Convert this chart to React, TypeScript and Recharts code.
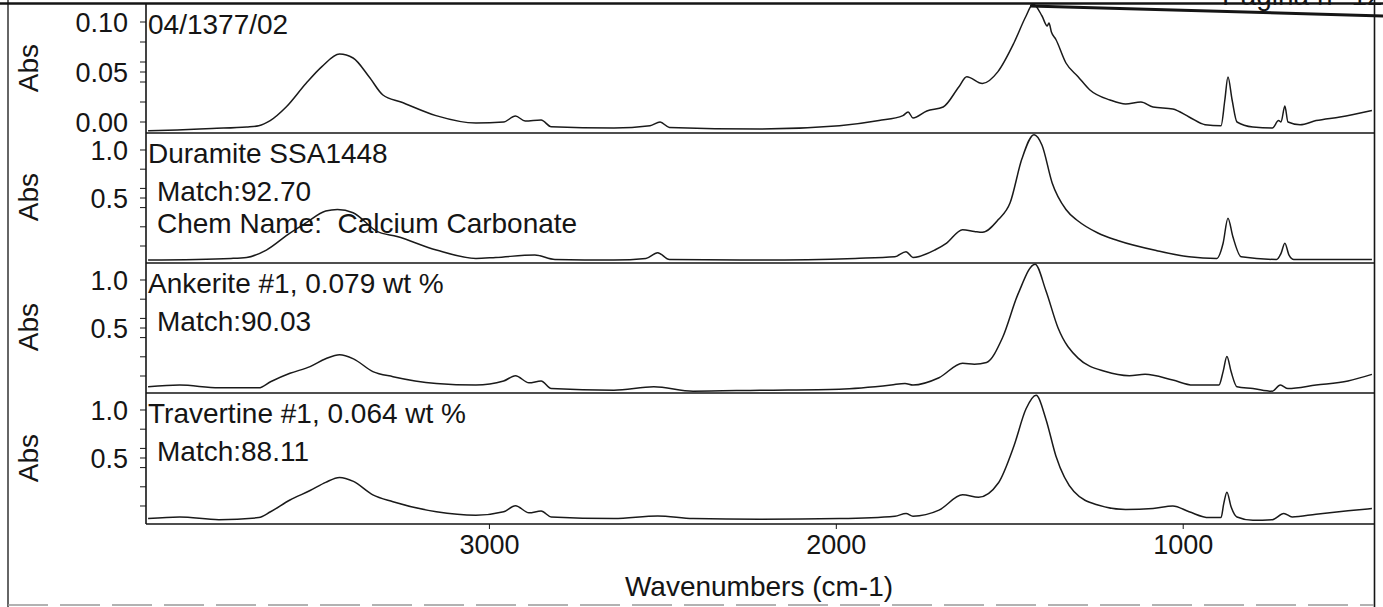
import { LineChart, Line, XAxis, YAxis } from "recharts";

// IR stack plot: unknown sample + three library matches
// pairs are [wavenumber cm-1, absorbance]

const sample0413: [number, number][] = [
  [3984, -0.0088], [3900, -0.008], [3800, -0.0065], [3700, -0.005], [3665, -0.0037],
  [3632, 0.0014], [3586, 0.015], [3529, 0.0385], [3483, 0.0554], [3432, 0.068],
  [3393, 0.064], [3347, 0.0453], [3307, 0.027], [3255, 0.02], [3154, 0.0064],
  [3039, -0.001], [2959, 0.0], [2925, 0.006], [2897, 0.001], [2851, 0.002],
  [2822, -0.0047], [2641, -0.006], [2537, -0.0037], [2508, 0.0], [2481, -0.0054],
  [2220, -0.007], [1991, -0.0037], [1877, 0.0014], [1808, 0.0064], [1793, 0.01],
  [1779, 0.004], [1739, 0.011], [1692, 0.015], [1647, 0.035], [1624, 0.0453],
  [1579, 0.0385], [1534, 0.0504], [1488, 0.079], [1453, 0.106], [1433, 0.118],
  [1407, 0.106], [1392, 0.096], [1387, 0.099], [1380, 0.09], [1367, 0.0825],
  [1338, 0.059], [1303, 0.0453], [1269, 0.032], [1211, 0.022], [1166, 0.018],
  [1122, 0.02], [1087, 0.015], [1030, 0.013], [983, 0.005], [937, -0.0027],
  [891, -0.0037], [880, 0.022], [871, 0.045], [859, 0.022], [845, 0.0],
  [799, -0.005], [743, -0.006], [725, 0.0014], [718, 0.0], [707, 0.016],
  [698, 0.0], [663, -0.0027], [617, 0.0014], [548, 0.005], [456, 0.0115],
];

const duramite: [number, number][] = [
  [3984, -0.146], [3745, -0.129], [3700, -0.119], [3643, -0.042], [3575, 0.135],
  [3529, 0.24], [3472, 0.364], [3438, 0.38], [3393, 0.346], [3324, 0.152],
  [3266, 0.099], [3153, -0.042], [3039, -0.129], [2982, -0.119], [2869, -0.094],
  [2811, -0.14], [2641, -0.146], [2549, -0.129], [2515, -0.07], [2481, -0.14],
  [2220, -0.146], [1946, -0.129], [1831, -0.1125], [1799, -0.059], [1779, -0.119],
  [1716, -0.042], [1682, 0.031], [1636, 0.17], [1602, 0.152], [1579, 0.142],
  [1533, 0.275], [1499, 0.45], [1465, 0.908], [1430, 1.16], [1407, 1.05],
  [1378, 0.66], [1338, 0.38], [1303, 0.26], [1246, 0.135], [1189, 0.057],
  [1076, -0.049], [983, -0.1125], [903, -0.129], [885, 0.029], [871, 0.29],
  [857, 0.099], [833, -0.1125], [731, -0.14], [718, -0.077], [707, 0.029],
  [695, -0.094], [681, -0.14], [456, -0.14],
];

const ankerite: [number, number][] = [
  [3984, -0.1125], [3893, -0.094], [3780, -0.123], [3665, -0.123], [3631, -0.06],
  [3575, 0.028], [3517, 0.098], [3472, 0.179], [3432, 0.222], [3392, 0.179],
  [3336, 0.046], [3278, -0.007], [3153, -0.077], [3039, -0.094], [2959, -0.052],
  [2925, 0.003], [2886, -0.071], [2851, -0.052], [2822, -0.13], [2641, -0.148],
  [2526, -0.1125], [2413, -0.158], [2220, -0.148], [1991, -0.1375], [1842, -0.094],
  [1802, -0.077], [1779, -0.094], [1704, -0.018], [1636, 0.133], [1602, 0.123],
  [1567, 0.141], [1521, 0.398], [1476, 0.855], [1427, 1.165], [1396, 0.891],
  [1361, 0.503], [1303, 0.186], [1224, 0.046], [1155, 0.003], [1110, 0.017],
  [1030, -0.042], [972, -0.094], [897, -0.094], [885, 0.046], [874, 0.204],
  [862, 0.046], [845, -0.1125], [799, -0.13], [743, -0.158], [720, -0.094],
  [698, -0.13], [617, -0.094], [525, -0.052], [456, 0.017],
];

const travertine: [number, number][] = [
  [3984, -0.131], [3893, -0.114], [3780, -0.142], [3665, -0.121], [3631, -0.06],
  [3575, 0.0625], [3517, 0.161], [3472, 0.246], [3432, 0.298], [3392, 0.256],
  [3336, 0.116], [3278, 0.045], [3153, -0.06], [3039, -0.096], [2959, -0.06],
  [2925, 0.003], [2886, -0.071], [2851, -0.053], [2822, -0.114], [2641, -0.131],
  [2515, -0.103], [2413, -0.131], [2220, -0.139], [1991, -0.131], [1831, -0.106],
  [1799, -0.078], [1779, -0.106], [1704, -0.043], [1636, 0.116], [1590, 0.091],
  [1533, 0.239], [1488, 0.625], [1453, 1.0125], [1424, 1.153], [1396, 0.907],
  [1367, 0.521], [1315, 0.15], [1246, 0.01], [1166, -0.036], [1087, -0.026],
  [1030, 0.0], [983, -0.06], [926, -0.121], [891, -0.121], [883, 0.027],
  [874, 0.144], [862, -0.008], [845, -0.114], [799, -0.149], [743, -0.142],
  [710, -0.078], [686, -0.114], [617, -0.085], [525, -0.05], [456, -0.026],
];

const smallTicks = [0.1, 0.08, 0.06, 0.05, 0.04, 0.02, 0];
const smallLabels = [0.1, 0.05, 0];
const bigTicks = [1.0, 0.8, 0.6, 0.5, 0.4, 0.2, 0];
const bigLabels = [1.0, 0.5];
const wnTicks = [3000, 2000, 1000];

const notes0413 = ["04/1377/02"];
const notesDuramite = ["Duramite SSA1448", "Match:92.70", "Chem Name:  Calcium Carbonate"];
const notesAnkerite = ["Ankerite #1, 0.079 wt %", "Match:90.03"];
const notesTravertine = ["Travertine #1, 0.064 wt %", "Match:88.11"];

const FONT = '"Liberation Sans", Arial, Helvetica, sans-serif';
const INK = "#151515";

const panels = [
  { data: sample0413, top: 4, plotH: 129, domain: [-0.011, 0.118], ticks: smallTicks, labels: smallLabels, digits: 2, notes: notes0413, noteY: [34] },
  { data: duramite, top: 133, plotH: 130, domain: [-0.177, 1.177], ticks: bigTicks, labels: bigLabels, digits: 1, notes: notesDuramite, noteY: [163, 201, 233] },
  { data: ankerite, top: 263, plotH: 130, domain: [-0.177, 1.177], ticks: bigTicks, labels: bigLabels, digits: 1, notes: notesAnkerite, noteY: [293, 331] },
  { data: travertine, top: 393, plotH: 131, domain: [-0.1875, 1.177], ticks: bigTicks, labels: bigLabels, digits: 1, notes: notesTravertine, noteY: [423, 461] },
];

function Panel({ p, last }: { p: (typeof panels)[number]; last: boolean }) {
  const rows = p.data.map(([wn, a]) => ({ wn, a }));
  // the x axis strip below the upper panels stays empty; it only gives the
  // bottom tick label room so it is not clipped
  const xh = last ? 42 : 12;
  return (
    <div style={{ position: "absolute", left: 0, top: p.top }}>
      <LineChart
        width={1383}
        height={p.plotH + xh}
        data={rows}
        margin={{ top: 0, right: 9, bottom: 0, left: 0 }}
        style={{ overflow: "visible" }}
      >
        <XAxis
          type="number"
          dataKey="wn"
          domain={[450, 3990]}
          reversed
          allowDataOverflow
          ticks={last ? wnTicks : []}
          tick={last ? { fill: INK, fontSize: 27, fontFamily: FONT } : false}
          tickLine={last ? { stroke: INK } : false}
          interval={0}
          height={xh}
          tickSize={5}
          tickMargin={6}
          axisLine={{ stroke: INK, strokeWidth: 1.6 }}
        />
        <YAxis
          type="number"
          domain={p.domain}
          allowDataOverflow
          ticks={p.ticks}
          interval={0}
          width={146}
          tickSize={6}
          tickMargin={12}
          tickFormatter={(v: number) => (p.labels.includes(v) ? v.toFixed(p.digits) : "")}
          tick={{ fill: INK, fontSize: 27, fontFamily: FONT }}
          tickLine={{ stroke: INK }}
          axisLine={{ stroke: INK, strokeWidth: 1.6 }}
        />
        <Line
          type="monotone"
          dataKey="a"
          stroke="#1a1a1a"
          strokeWidth={1.5}
          dot={false}
          isAnimationActive={false}
        />
      </LineChart>
    </div>
  );
}

export default function App() {
  const absY = [68, 197, 327, 458];
  return (
    <div style={{ position: "absolute", left: 0, top: 0, width: 1383, height: 607, background: "#fff", overflow: "hidden", fontFamily: FONT }}>
      {panels.map((p, i) => (
        <Panel key={i} p={p} last={i === panels.length - 1} />
      ))}
      <svg width={1383} height={607} style={{ position: "absolute", left: 0, top: 0, pointerEvents: "none" }}>
        {/* page frame from the scan */}
        <line x1={8} y1={0} x2={8} y2={607} stroke="#333" strokeWidth={1.5} />
        <line x1={1374.5} y1={0} x2={1374.5} y2={607} stroke={INK} strokeWidth={1.6} />
        <line x1={8} y1={605} x2={1374} y2={605} stroke="#999" strokeWidth={1.5} strokeDasharray="40 12" />
        <line x1={0} y1={3.5} x2={1383} y2={3.5} stroke={INK} strokeWidth={2.5} />
        <line x1={1030} y1={6} x2={1383} y2={16} stroke={INK} strokeWidth={3} />
        <text x={1222} y={5} fontSize={28} fill={INK}>Pagina n° 12 d</text>
        {absY.map((y, i) => (
          <text key={i} x={28} y={y} fontSize={28} fill={INK} textAnchor="middle" dominantBaseline="central" transform={`rotate(-90 28 ${y})`}>
            Abs
          </text>
        ))}
        {panels.map((p, i) =>
          p.notes.map((t, j) => (
            <text key={`${i}-${j}`} x={j === 0 ? 148 : 157} y={p.noteY[j]} fontSize={28} fill={INK} style={{ whiteSpace: "pre" }}>
              {t}
            </text>
          ))
        )}
        <text x={759} y={596} fontSize={28} fill={INK} textAnchor="middle">
          Wavenumbers (cm-1)
        </text>
      </svg>
    </div>
  );
}
